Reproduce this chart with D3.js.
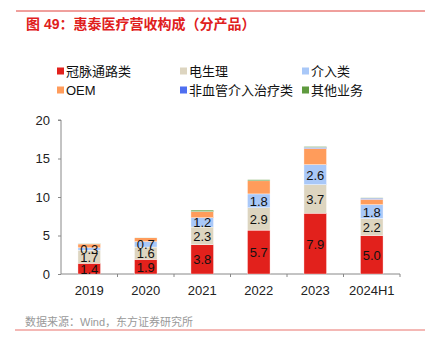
<!DOCTYPE html>
<html>
<head>
<meta charset="utf-8">
<script src="https://cdn.jsdelivr.net/npm/d3@7"></script>
<style>
  body { margin: 0; background: #fff; }
  svg { font-family: "Liberation Sans", Arial, "Noto Sans CJK SC", sans-serif; }
</style>
</head>
<body>
<div id="chart"></div>
<script>
// chart data
const years = ["2019", "2020", "2021", "2022", "2023", "2024H1"];
const seriesNames = ["冠脉通路类", "电生理", "介入类", "OEM", "非血管介入治疗类", "其他业务"];
const coronary = [1.4, 1.9, 3.8, 5.7, 7.9, 5.0];
const ep = [1.7, 1.6, 2.3, 2.9, 3.7, 2.2];
const interventional = [0.3, 0.7, 1.2, 1.8, 2.6, 1.8];
const oem = [0.5, 0.5, 0.8, 1.7, 2.1, 0.7];
const nonVascular = [0.0, 0.0, 0.0, 0.0, 0.15, 0.15];
const others = [0.05, 0.05, 0.2, 0.15, 0.1, 0.05];
const yTicks = [0, 5, 10, 15, 20];

const colors = ["#E2211C", "#DDD5C0", "#A9C8F8", "#FF9C5B", "#4F6FF0", "#5F9A3F"];
const labelled = [true, true, true, false, false, false];

const W = 425, H = 351;
const svg = d3.select("#chart").append("svg")
    .attr("width", W).attr("height", H);

// top and bottom rules
svg.append("line").attr("x1", 16).attr("x2", W).attr("y1", 11).attr("y2", 11)
    .attr("stroke", "#E0403A").attr("stroke-width", 1);
svg.append("line").attr("x1", 15).attr("x2", W).attr("y1", 330).attr("y2", 330)
    .attr("stroke", "#F0A09C").attr("stroke-width", 1.5);

// title
svg.append("text").attr("x", 26).attr("y", 29)
    .attr("fill", "#E0201C").style("font-size", "14px").style("font-weight", "bold")
    .text("图 49：惠泰医疗营收构成（分产品）");

// source
svg.append("text").attr("x", 25).attr("y", 326)
    .attr("fill", "#999").style("font-size", "11px")
    .text("数据来源：Wind，东方证券研究所");

// legend
const legendPos = [[57, 71], [180, 71], [302, 71], [57, 90], [180, 90], [302, 90]];
seriesNames.forEach((name, i) => {
    const g = svg.append("g").attr("transform", `translate(${legendPos[i][0]},${legendPos[i][1]})`);
    g.append("rect").attr("x", 0).attr("y", -3.5).attr("width", 7).attr("height", 7).attr("fill", colors[i]);
    g.append("text").attr("x", 9).attr("y", 5).style("font-size", "13px").attr("fill", "#111").text(name);
});

// scales
const x = d3.scaleBand().domain(years).range([61, 400]).paddingInner(0.6).paddingOuter(0.3);
const y = d3.scaleLinear().domain([0, 20]).range([274, 120]);

const table = years.map((yr, i) => ({
    year: yr,
    v: [coronary[i], ep[i], interventional[i], oem[i], nonVascular[i], others[i]]
}));
const keys = [0, 1, 2, 3, 4, 5];
const stack = d3.stack().keys(keys).value((d, k) => d.v[k]);
const layers = stack(table);

// axes
const yAxis = svg.append("g").attr("transform", "translate(61,0)")
    .call(d3.axisLeft(y).tickValues(yTicks).tickSize(3).tickPadding(8));
yAxis.select(".domain").attr("stroke", "#888").attr("d", `M-3,${y(20)}H0V${y(0)}`);
yAxis.selectAll(".tick line").attr("stroke", "#888");
yAxis.selectAll("text").style("font-size", "13px").attr("fill", "#222")
    .style("font-family", "'Liberation Sans', Arial, sans-serif");

// x axis line with ticks between categories
const step = x.step();
const xAxisG = svg.append("g");
xAxisG.append("line").attr("x1", 61).attr("x2", 400).attr("y1", y(0)).attr("y2", y(0)).attr("stroke", "#888");
years.forEach((yr, i) => {
    const xb = x(yr) - x.bandwidth() * 0 + x.bandwidth() / 2 + step / 2;
    xAxisG.append("line").attr("x1", xb).attr("x2", xb).attr("y1", y(0)).attr("y2", y(0) + 3).attr("stroke", "#888");
});
xAxisG.selectAll("text.xl").data(years).enter().append("text")
    .attr("class", "xl")
    .attr("x", d => x(d) + x.bandwidth() / 2)
    .attr("y", 295)
    .attr("text-anchor", "middle")
    .style("font-size", "13px").attr("fill", "#222")
    .text(d => d);

// bars
layers.forEach((layer, li) => {
    svg.append("g").selectAll("rect").data(layer).enter().append("rect")
        .attr("x", d => x(d.data.year))
        .attr("width", x.bandwidth())
        .attr("y", d => y(d[1]))
        .attr("height", d => Math.max(0, y(d[0]) - y(d[1])))
        .attr("fill", colors[li])
        .attr("stroke", "#fff").attr("stroke-width", 0.4);
});

// value labels
layers.forEach((layer, li) => {
    if (!labelled[li]) return;
    svg.append("g").selectAll("text").data(layer).enter().append("text")
        .attr("x", d => x(d.data.year) + x.bandwidth() / 2)
        .attr("y", d => (y(d[0]) + y(d[1])) / 2 + 5)
        .attr("text-anchor", "middle")
        .style("font-size", "13px").attr("fill", "#111")
        .text(d => (d[1] - d[0]).toFixed(1));
});
</script>
</body>
</html>
